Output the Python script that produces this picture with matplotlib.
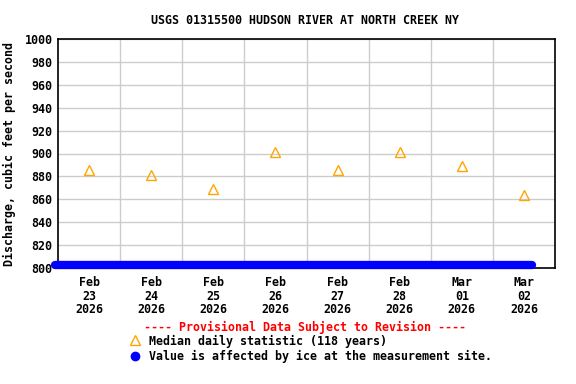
import matplotlib
matplotlib.use("Agg")
import matplotlib.pyplot as plt
from datetime import datetime

# median daily statistic, plotted at noon of each day
median_days = ["2026-02-23", "2026-02-24", "2026-02-25", "2026-02-26",
               "2026-02-27", "2026-02-28", "2026-03-01", "2026-03-02"]
median_vals = [886, 881, 869, 901, 886, 901, 889, 864]
tick_labels = ["Feb\n23\n2026", "Feb\n24\n2026", "Feb\n25\n2026", "Feb\n26\n2026",
               "Feb\n27\n2026", "Feb\n28\n2026", "Mar\n01\n2026", "Mar\n02\n2026"]

# ice-affected record (start and end of the run)
ice_times = ["2026-02-22 23:00", "2026-03-02 15:15"]
ice_vals = [803, 803]

FONT = "DejaVu Sans Mono"
plt.rcParams["font.family"] = FONT
plt.rcParams["font.weight"] = "bold"
fs = 8.4

fig = plt.figure(figsize=(5.76, 3.84), dpi=100)
W, H = 576, 384
ax = fig.add_axes([58 / W, 1 - 268 / H, (555 - 58) / W, (268 - 39) / H])

noon = [datetime.strptime(d, "%Y-%m-%d").replace(hour=12) for d in median_days]
ice_t = [datetime.strptime(t, "%Y-%m-%d %H:%M") for t in ice_times]

ax.plot(ice_t, ice_vals, color="#0000ff", lw=6, solid_capstyle="round",
        zorder=3, clip_on=False)
ax.plot(noon, median_vals, ls="none", marker="^", ms=7.2, mfc="none",
        mec="#ffa500", mew=1.0, zorder=4)

ax.set_xlim(datetime(2026, 2, 23), datetime(2026, 3, 3))
ax.set_ylim(800, 1000)
ax.set_yticks(range(800, 1001, 20))
ax.set_xticks(noon)
ax.set_xticklabels(tick_labels, fontsize=fs, fontweight="bold", linespacing=1.05)
ax.set_xticks([datetime(2026, 2, d) for d in range(24, 29)] +
              [datetime(2026, 3, 1), datetime(2026, 3, 2)], minor=True)
ax.tick_params(axis="x", which="both", length=0, pad=6)
ax.tick_params(axis="y", length=0, labelsize=fs, pad=4)
ax.grid(True, axis="x", which="minor", color="#cccccc", lw=1)
ax.grid(True, axis="y", which="major", color="#cccccc", lw=1)
for s in ax.spines.values():
    s.set_linewidth(1.2)

ax.set_ylabel("Discharge, cubic feet per second", fontsize=fs, fontweight="bold",
              labelpad=6)
fig.text(305 / W, 1 - 20 / H, "USGS 01315500 HUDSON RIVER AT NORTH CREEK NY",
         ha="center", va="center", fontsize=fs, fontweight="bold")

fig.text(305 / W, 1 - 327 / H, "---- Provisional Data Subject to Revision ----",
         ha="center", va="center", fontsize=fs, fontweight="bold", color="red")
fig.lines.append(plt.Line2D([135 / W], [1 - 340 / H], marker="^", ms=7.2, mfc="none",
                            mec="#ffa500", mew=1.0, ls="none",
                            transform=fig.transFigure))
fig.text(149 / W, 1 - 341 / H, "Median daily statistic (118 years)",
         ha="left", va="center", fontsize=fs, fontweight="bold")
fig.lines.append(plt.Line2D([135 / W], [1 - 356 / H], marker="o", ms=6, mfc="#0000ff",
                            mec="#0000ff", ls="none", transform=fig.transFigure))
fig.text(149 / W, 1 - 356 / H, "Value is affected by ice at the measurement site.",
         ha="left", va="center", fontsize=fs, fontweight="bold")

fig.savefig("out.png", dpi=100)
